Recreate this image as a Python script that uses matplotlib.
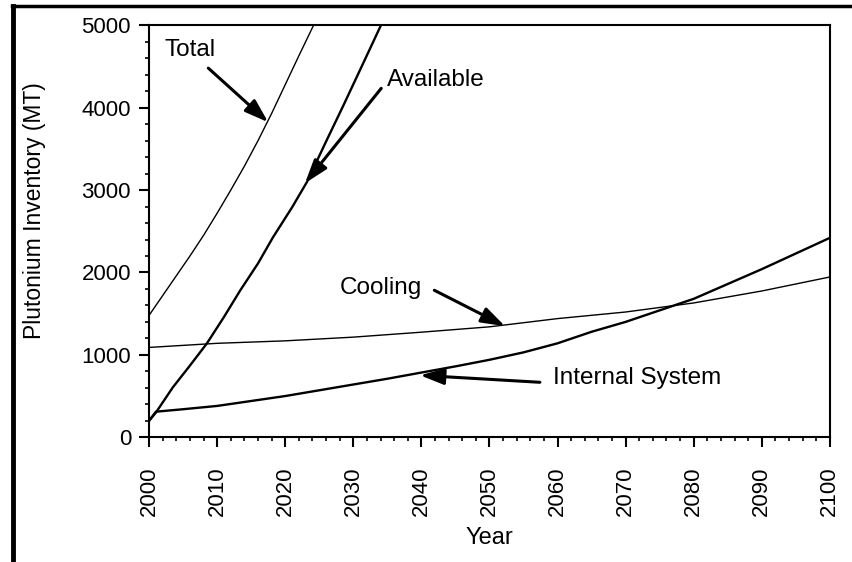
import numpy as np
import matplotlib
matplotlib.use("Agg")
import matplotlib.pyplot as plt
from matplotlib.lines import Line2D
from matplotlib.ticker import MultipleLocator

plt.rcParams["font.family"] = ["Liberation Sans", "DejaVu Sans"]

# values
total_years = [2000, 2002, 2004, 2006, 2008, 2010, 2012, 2014, 2016, 2018, 2020, 2022, 2024.1]
total_vals = [1480, 1720, 1960, 2200, 2450, 2720, 3000, 3290, 3600, 3930, 4280, 4630, 4990]

avail_years = [2000, 2001, 2003.5, 2006, 2008.5, 2011, 2013.4, 2016, 2018.2, 2021, 2023.2, 2026, 2028.5, 2031, 2034]
avail_vals = [200, 300, 607, 870, 1140, 1460, 1784, 2110, 2427, 2790, 3100, 3590, 4020, 4460, 4990]

cool_years = [2000, 2010, 2020, 2030, 2040, 2050, 2060, 2070, 2080, 2090, 2100]
cool_vals = [1090, 1140, 1170, 1215, 1275, 1340, 1440, 1520, 1630, 1775, 1945]

int_years = [2000, 2001, 2005, 2010, 2015, 2020, 2025, 2030, 2035, 2040, 2045, 2050,
             2055, 2060, 2065, 2070, 2075, 2080, 2085, 2090, 2095, 2100]
int_vals = [200, 310, 340, 380, 440, 500, 570, 640, 710, 785, 860, 940,
            1030, 1140, 1280, 1400, 1540, 1680, 1860, 2040, 2230, 2420]

labels = ["Total", "Available", "Cooling", "Internal System"]
label_xy = [(2002.3, 4700), (2035.0, 4330), (2028.0, 1810), (2059.3, 716)]
arrow_tail = [(2008.7, 4480), (2034.1, 4235), (2041.9, 1784), (2057.4, 667)]
arrow_head = [(2017.5, 3823), (2022.9, 3083), (2052.3, 1347), (2039.8, 752)]

fig = plt.figure(figsize=(8.52, 5.62), dpi=100)
ax = fig.add_axes([0.175, 0.222, 0.799, 0.733])

ax.plot(total_years, total_vals, color="black", lw=1.0)
ax.plot(avail_years, avail_vals, color="black", lw=1.7)
ax.plot(cool_years, cool_vals, color="black", lw=1.0)
ax.plot(int_years, int_vals, color="black", lw=1.7)

for lab, xy, tail, head in zip(labels, label_xy, arrow_tail, arrow_head):
    ax.text(xy[0], xy[1], lab, fontsize=17.5, va="center", ha="left")
    ax.annotate("", xy=head, xytext=tail,
                arrowprops=dict(arrowstyle="-|>,head_length=0.9,head_width=0.3",
                                color="black", lw=2.2,
                                mutation_scale=16, shrinkA=0, shrinkB=0))

ax.set_xlim(2000, 2100)
ax.set_ylim(0, 5000)
ax.xaxis.set_major_locator(MultipleLocator(10))
ax.xaxis.set_minor_locator(MultipleLocator(2))
ax.yaxis.set_major_locator(MultipleLocator(1000))
ax.yaxis.set_minor_locator(MultipleLocator(200))

ax.tick_params(axis="x", which="major", direction="out", length=7, width=1.5,
               labelsize=16, labelrotation=90, pad=14)
ax.tick_params(axis="y", which="major", direction="out", length=7, width=1.5,
               labelsize=16, pad=6)
ax.tick_params(which="minor", direction="out", length=3, width=1.2)

for sp in ax.spines.values():
    sp.set_linewidth(1.5)

ax.set_xlabel("Year", fontsize=17, labelpad=8)
ax.set_ylabel("Plutonium Inventory (MT)", fontsize=16.5)
ax.yaxis.set_label_coords(-0.152, 0.55)

# scanned page border
fig.add_artist(Line2D([12 / 852, 1.0], [1 - 6 / 562, 1 - 6 / 562], color="black", lw=2.5))
fig.add_artist(Line2D([13 / 852, 13 / 852], [0, 1 - 6 / 562], color="black", lw=3.5))

fig.savefig("out.png", dpi=100)
